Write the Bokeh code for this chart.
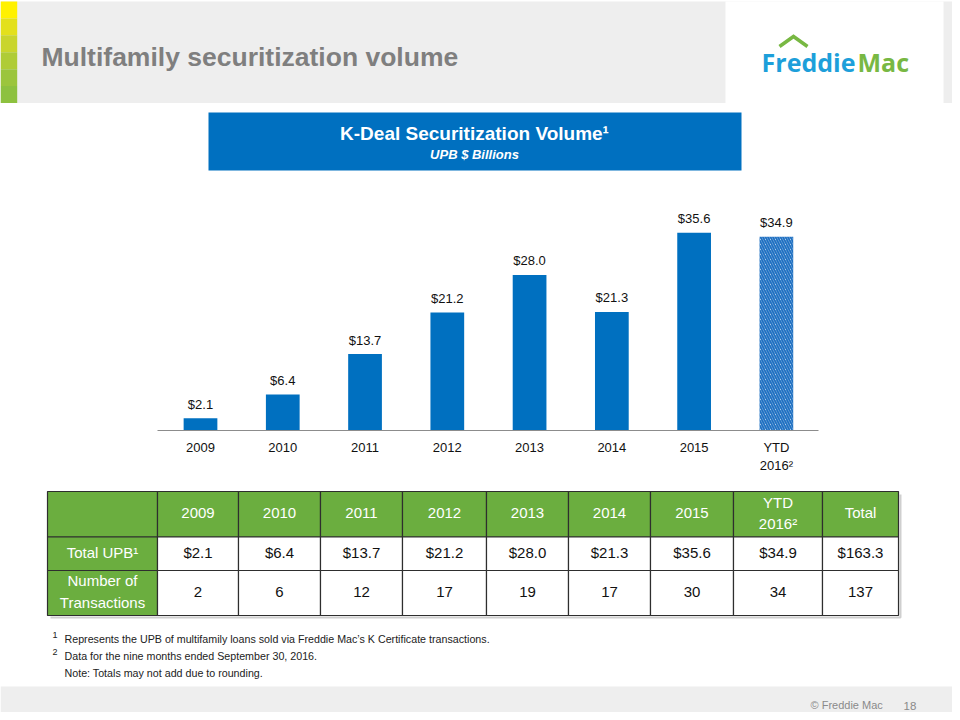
from bokeh.plotting import figure
from bokeh.models import Range1d, LinearAxis, FixedTicker, ColumnDataSource
from bokeh.embed import file_html
from bokeh.resources import INLINE
from bokeh.core.properties import value

# ---------------- data ----------------
categories = ["2009", "2010", "2011", "2012", "2013", "2014", "2015", "YTD\n2016\u00b2"]
upb = [2.1, 6.4, 13.7, 21.2, 28.0, 21.3, 35.6, 34.9]
transactions = [2, 6, 12, 17, 19, 17, 30, 34]
total_upb = 163.3
total_transactions = 137
row_labels = ["Total UPB\u00b9", "Number of\nTransactions"]
total_label = "Total"
slide_title = "Multifamily securitization volume"
chart_title = "K-Deal Securitization Volume\u00b9"
chart_subtitle = "UPB $ Billions"
footnote_marks = ["1", "2"]
footnotes = [
    "Represents the UPB of multifamily loans sold via Freddie Mac\u2019s K Certificate transactions.",
    "Data for the nine months ended September 30, 2016.",
    "Note:  Totals may not add due to rounding.",
]
copyright_text = "\u00a9  Freddie Mac"
page_number = "18"

# ---------------- styles / layout ----------------
FONT = value("Liberation Sans")
BLUE = "#0070C0"
GREEN = "#6BAE3F"
GRAY_BG = "#EEEEEE"
W, H = 952, 712

# pixel layout of the bar chart (slide coordinates)
bar_x0, bar_dx = 200.0, 82.27      # centre of first bar, spacing
zero_y, px_per_unit = 429.5, 5.54  # baseline pixel, pixels per $bn

p = figure(width=W, height=H,
           x_range=Range1d(0, W), y_range=Range1d(H, 0),
           output_backend="svg", toolbar_location=None,
           min_border=0, x_axis_type=None, y_axis_type=None,
           outline_line_color=None)
p.background_fill_color = "white"
p.border_fill_color = "white"
p.grid.visible = False

p.extra_x_ranges = {"cat": Range1d((0 - bar_x0) / bar_dx, (W - bar_x0) / bar_dx)}
p.extra_y_ranges = {"val": Range1d(-(H - zero_y) / px_per_unit, (zero_y - 0) / px_per_unit)}

# ---------------- header ----------------
p.quad(left=[0], right=[960], top=[1], bottom=[102.5], fill_color=GRAY_BG, line_color=None)
p.quad(left=[725], right=[943], top=[1], bottom=[102.5], fill_color="white", line_color=None)
stripe_colors = ["#FFF100", "#E3E01B", "#C9D52C", "#AFCC36", "#9BC53C", "#8DC13F"]
n = len(stripe_colors)
h = (102.5 - 1) / n
p.quad(left=[0] * n, right=[16.7] * n,
       top=[1 + i * h for i in range(n)], bottom=[1 + (i + 1) * h for i in range(n)],
       fill_color=stripe_colors, line_color=None)
p.text(x=[41], y=[56], text=[slide_title], text_font=FONT, text_font_style="bold",
       text_font_size="26.5px", text_color="#7F7F7F", text_align="left", text_baseline="middle")

# logo
p.line(x=[779, 793, 807], y=[46, 36, 46], line_color="#78B843", line_width=3.5,
       line_join="miter")
p.text(x=[855], y=[61], text=["Freddie"], text_font=value("Open Sans"), text_font_style="bold",
       text_font_size="25px", text_color="#1D9FDA", text_align="right", text_baseline="middle")
p.text(x=[857], y=[61], text=["Mac"], text_font=value("Open Sans"), text_font_style="bold",
       text_font_size="25px", text_color="#78B843", text_align="left", text_baseline="middle")

# ---------------- chart title box ----------------
p.quad(left=[208], right=[741], top=[112], bottom=[170], fill_color=BLUE, line_color=None)
p.text(x=[474], y=[133], text=[chart_title], text_font=FONT, text_font_style="bold",
       text_font_size="19px", text_color="white", text_align="center", text_baseline="middle")
p.text(x=[474], y=[154], text=[chart_subtitle], text_font=FONT, text_font_style="bold italic",
       text_font_size="13px", text_color="white", text_align="center", text_baseline="middle")

# ---------------- bars ----------------
idx = list(range(len(categories)))
src_solid = ColumnDataSource(dict(x=idx[:-1], top=upb[:-1]))
src_ytd = ColumnDataSource(dict(x=idx[-1:], top=upb[-1:]))
p.vbar(x="x", top="top", bottom=0, width=0.41, source=src_solid,
       x_range_name="cat", y_range_name="val", fill_color=BLUE, line_color=None)
p.vbar(x="x", top="top", bottom=0, width=0.41, source=src_ytd,
       x_range_name="cat", y_range_name="val", fill_color="white", line_color=None,
       hatch_pattern="\\", hatch_color="#1F70C2", hatch_weight=2.0, hatch_scale=5)

src_lab = ColumnDataSource(dict(x=idx, y=upb, t=[f"${v:.1f}" for v in upb]))
p.text(x="x", y="y", text="t", source=src_lab, x_range_name="cat", y_range_name="val",
       text_align="center", text_baseline="middle", y_offset=-14,
       text_font=FONT, text_font_size="13px", text_color="#111111")

ax = LinearAxis(x_range_name="cat", y_range_name="val", fixed_location=0,
                ticker=FixedTicker(ticks=idx),
                major_label_overrides={i: c for i, c in enumerate(categories)},
                bounds=(-0.52, 7.51))
ax.axis_line_color = "#8C8C8C"
ax.axis_line_width = 1
ax.major_tick_line_color = None
ax.minor_tick_line_color = None
ax.major_label_standoff = 4
ax.major_label_text_font = "Liberation Sans"
ax.major_label_text_font_size = "13px"
ax.major_label_text_color = "#111111"
p.add_layout(ax, "below")

# ---------------- table ----------------
col_edges = [47, 157, 238, 320, 402, 486, 568, 650, 733, 822, 898]
row_edges = [491, 536.5, 570, 615]
header_row = [""] + categories + [total_label]
upb_row = [row_labels[0]] + [f"${v:.1f}" for v in upb] + [f"${total_upb:.1f}"]
txn_row = [row_labels[1]] + [str(t) for t in transactions] + [str(total_transactions)]
rows = [header_row, upb_row, txn_row]

# shadow
p.line(x=[50, 900, 900], y=[617, 617, 494], line_color="#CFCFCF", line_width=2)

L, R, T, B, F, X, Y, TX, TC = [], [], [], [], [], [], [], [], []
for r, row in enumerate(rows):
    for c, txt in enumerate(row):
        L.append(col_edges[c]); R.append(col_edges[c + 1])
        T.append(row_edges[r]); B.append(row_edges[r + 1])
        green = (r == 0 or c == 0)
        F.append(GREEN if green else "white")
        X.append((col_edges[c] + col_edges[c + 1]) / 2)
        Y.append((row_edges[r] + row_edges[r + 1]) / 2 - 1.5)
        TX.append(txt)
        TC.append("white" if green else "#111111")
p.quad(left=L, right=R, top=T, bottom=B, fill_color=F, line_color="#2E2E2E", line_width=1.2)
p.text(x=X, y=Y, text=TX, text_color=TC, text_font=FONT, text_font_size="15px",
       text_align="center", text_baseline="middle", text_line_height=1.25)

# ---------------- footnotes ----------------
p.text(x=[52, 52], y=[634, 651.5], text=footnote_marks, text_font=FONT, text_font_size="9px",
       text_color="#222222", text_align="left", text_baseline="middle")
p.text(x=[64, 64, 64], y=[638.5, 655.5, 672.5], text=footnotes, text_font=FONT,
       text_font_size="10.7px", text_color="#222222", text_align="left", text_baseline="middle")

# ---------------- footer ----------------
p.quad(left=[0], right=[960], top=[686], bottom=[720], fill_color=GRAY_BG, line_color=None)
p.text(x=[810], y=[704], text=[copyright_text], text_font=FONT, text_font_size="11px",
       text_color="#8A8A8A", text_align="left", text_baseline="middle")
p.text(x=[903], y=[705], text=[page_number], text_font=FONT, text_font_size="11.5px",
       text_color="#8A8A8A", text_align="left", text_baseline="middle")

open("out.html", "w").write(file_html(p, INLINE))
